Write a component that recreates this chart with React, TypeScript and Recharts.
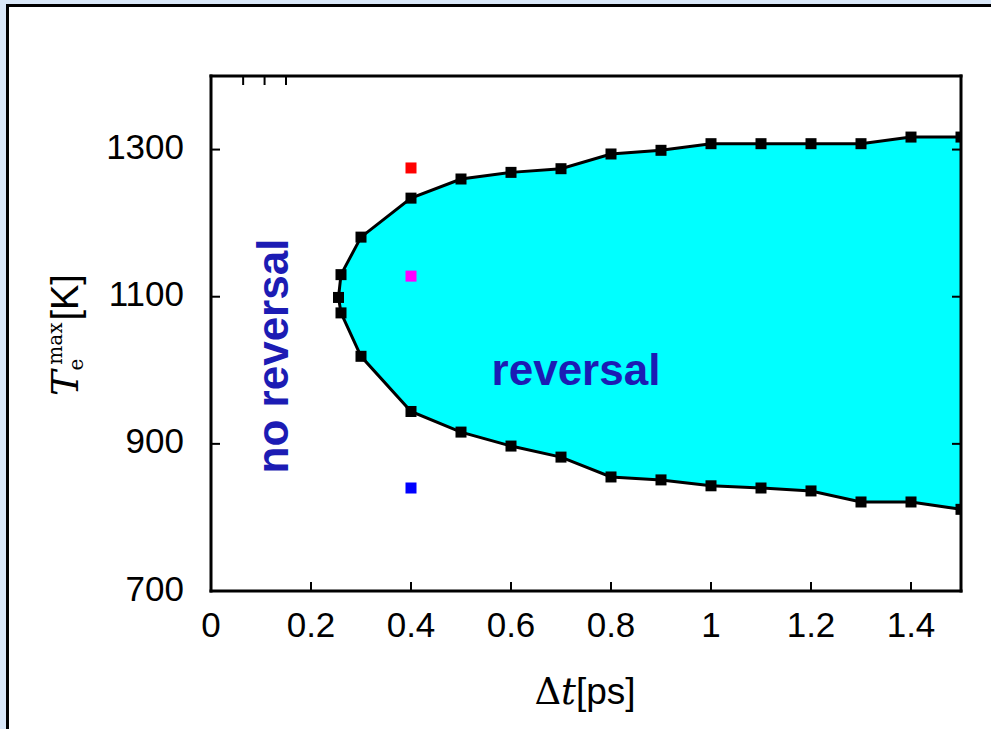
import React from "react";
import { ComposedChart, Area, Scatter, XAxis, YAxis } from "recharts";

// boundary of the reversal region (first point is the left tip shared by both curves)
const dt = [0.255, 0.26, 0.3, 0.4, 0.5, 0.6, 0.7, 0.8, 0.9, 1.0, 1.1, 1.2, 1.3, 1.4, 1.5];
const upperT = [1099, 1130, 1181, 1234, 1260, 1269, 1274, 1294, 1299, 1308, 1308, 1308, 1308, 1317, 1317];
const lowerT = [1099, 1078, 1019, 944, 916, 897, 882, 855, 851, 843, 840, 836, 821, 821, 811];

// the three single test points at dt = 0.4
const markX = [0.4, 0.4, 0.4];
const markT = [1275, 1128, 840];
const markColors = ["#ff0000", "#ff00ff", "#0000ff"];

const xTicks = [0, 0.2, 0.4, 0.6, 0.8, 1, 1.2, 1.4];
const yTicks = [700, 900, 1100, 1300];

const band = dt.map((d, i) => ({ dt: d, band: [lowerT[i], upperT[i]] }));
const outline = [
  ...dt.map((d, i) => ({ dt: d, T: upperT[i] })).reverse(),
  ...dt.slice(1).map((d, i) => ({ dt: d, T: lowerT[i + 1] })),
];
const marks = markX.map((d, i) => ({ dt: d, T: markT[i], color: markColors[i] }));

const SANS = "Liberation Sans, Arial, sans-serif";
const SERIF = "DejaVu Serif, serif";
const TICK_LEN = 9;
const X_MARGIN = 21;
const Y_MARGIN = 27;
const axisLine = { stroke: "#000", strokeWidth: 3, strokeLinecap: "square" as const };

function BottomTick(props: any) {
  const { x, y, payload } = props;
  return (
    <g>
      <line x1={x} x2={x} y1={y - X_MARGIN} y2={y - X_MARGIN - TICK_LEN} stroke="#000" strokeWidth={2} />
      <text x={x} y={y} dy="0.72em" textAnchor="middle" fontFamily={SANS} fontSize={35} fill="#000">
        {payload.value}
      </text>
    </g>
  );
}

function LeftTick(props: any) {
  const { x, y, payload } = props;
  return (
    <g>
      <line x1={x + Y_MARGIN} x2={x + Y_MARGIN + TICK_LEN} y1={y} y2={y} stroke="#000" strokeWidth={2} />
      <text x={x} y={y - 3} dy="0.36em" textAnchor="end" fontFamily={SANS} fontSize={35} fill="#000">
        {payload.value}
      </text>
    </g>
  );
}

function TopTick(props: any) {
  const { x, y } = props;
  return <line x1={x} x2={x} y1={y} y2={y + TICK_LEN} stroke="#000" strokeWidth={2} />;
}

function RightTick(props: any) {
  const { x, y } = props;
  return <line x1={x} x2={x - TICK_LEN} y1={y} y2={y} stroke="#000" strokeWidth={2} />;
}

function Square(props: any) {
  const { cx, cy, size = 11, fill = "#000" } = props;
  return <rect x={cx - size / 2} y={cy - size / 2} width={size} height={size} fill={fill} />;
}

export default function App() {
  return (
    <div style={{ position: "absolute", left: 0, top: 0, width: 991, height: 729, overflow: "hidden", background: "#d9e7f8" }}>
      <div
        style={{
          position: "absolute",
          left: 6,
          top: 4,
          width: 1100,
          height: 900,
          border: "3px solid #000",
          background: "#fff",
        }}
      />
      <div style={{ position: "absolute", left: 0, top: 0 }}>
        <ComposedChart width={991} height={729} data={band} margin={{ top: 66, right: 20, bottom: 78, left: 151 }}>
          <XAxis
            dataKey="dt"
            type="number"
            domain={[0, 1.5]}
            ticks={xTicks}
            allowDataOverflow
            height={60}
            axisLine={axisLine}
            tickLine={false}
            tickSize={0}
            tickMargin={X_MARGIN}
            tick={<BottomTick />}
          />
          <XAxis
            xAxisId="top"
            orientation="top"
            type="number"
            domain={[0, 1.5]}
            ticks={xTicks}
            allowDataOverflow
            height={10}
            axisLine={axisLine}
            tickLine={false}
            tickSize={0}
            tickMargin={0}
            tick={<TopTick />}
          />
          <YAxis
            type="number"
            domain={[700, 1400]}
            ticks={yTicks}
            allowDataOverflow
            width={60}
            axisLine={axisLine}
            tickLine={false}
            tickSize={0}
            tickMargin={Y_MARGIN}
            tick={<LeftTick />}
          />
          <YAxis
            yAxisId="right"
            orientation="right"
            type="number"
            domain={[700, 1400]}
            ticks={yTicks}
            allowDataOverflow
            width={10}
            axisLine={axisLine}
            tickLine={false}
            tickSize={0}
            tickMargin={0}
            tick={<RightTick />}
          />
          <Area
            dataKey="band"
            type="linear"
            fill="#00ffff"
            fillOpacity={1}
            stroke="none"
            isAnimationActive={false}
          />
          <Scatter
            data={outline}
            dataKey="T"
            line={{ stroke: "#000", strokeWidth: 3 }}
            lineType="joint"
            shape={(p: any) => <Square cx={p.cx} cy={p.cy} />}
            isAnimationActive={false}
          />
          <Scatter
            data={marks}
            dataKey="T"
            shape={(p: any) => <Square cx={p.cx} cy={p.cy} fill={p.payload.color} />}
            isAnimationActive={false}
          />
        </ComposedChart>
      </div>
      <svg width={991} height={729} style={{ position: "absolute", left: 0, top: 0, pointerEvents: "none" }}>
        <text x={576} y={385} textAnchor="middle" fontFamily={SANS} fontWeight="bold" fontSize={44} fill="#1c1cb4">
          reversal
        </text>
        <text
          transform="translate(288,356) rotate(-90)"
          textAnchor="middle"
          fontFamily={SANS}
          fontWeight="bold"
          fontSize={44}
          fill="#1c1cb4"
        >
          no reversal
        </text>
        <text transform="translate(78,335) rotate(-90)" textAnchor="middle" fontSize={38} fill="#000">
          <tspan fontFamily={SERIF} fontStyle="italic">T</tspan>
          <tspan fontFamily={SERIF} fontSize={20} dy={5}>e</tspan>
          <tspan fontFamily={SERIF} fontSize={20} dx={-6} dy={-21}>max</tspan>
          <tspan fontFamily={SANS} dx={2} dy={16}>[K]</tspan>
        </text>
        <text x={585} y={704} textAnchor="middle" fontSize={37} fill="#000">
          <tspan fontFamily={SERIF}>Δ</tspan>
          <tspan fontFamily={SERIF} fontStyle="italic">t</tspan>
          <tspan fontFamily={SANS}>[ps]</tspan>
        </text>
      </svg>
    </div>
  );
}
